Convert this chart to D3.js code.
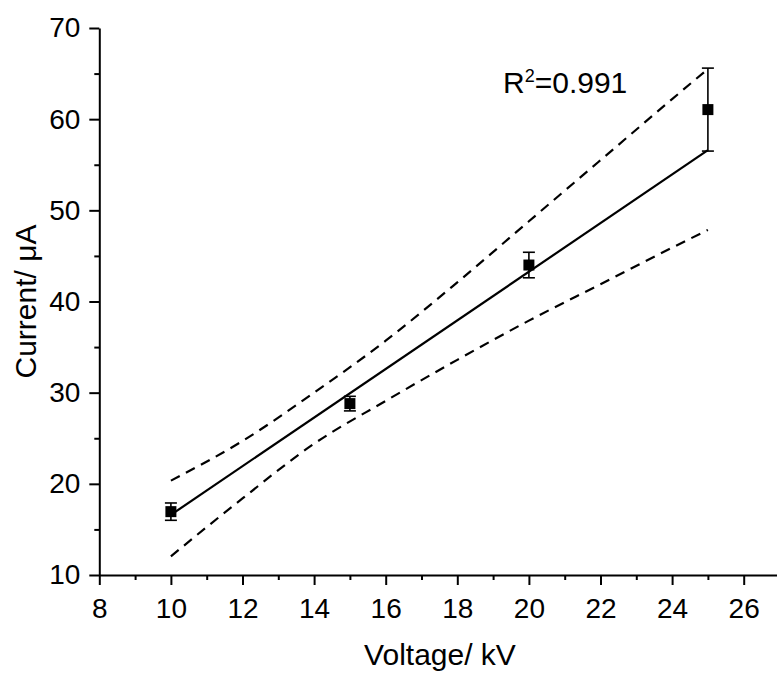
<!DOCTYPE html>
<html>
<head>
<meta charset="utf-8">
<script src="https://cdn.jsdelivr.net/npm/d3@7"></script>
<style>
  html, body { margin: 0; padding: 0; background: #fff; }
  svg text { font-family: "Liberation Sans", Arial, sans-serif; fill: #000; }
</style>
</head>
<body>
<svg id="chart" width="777" height="675"></svg>
<script>
// Measured current at each applied voltage, with standard deviations
const voltage = [10, 15, 20, 25];
const current = [16.95, 28.8, 44.0, 61.05];
const currentErr = [0.95, 0.8, 1.4, 4.55];

// Linear fit, evaluated at the ends of the voltage range
const fitX = [10, 25];
const fitY = [16.6, 56.6];

// Upper and lower band, sampled along the voltage range
const bandX = [10, 12, 14, 16, 18, 20, 22, 24, 25];
const upperY = [20.35, 24.7, 30.0, 35.7, 42.1, 48.8, 55.5, 62.2, 65.5];
const lowerY = [12.05, 18.4, 24.4, 29.1, 33.6, 37.9, 41.9, 45.9, 47.85];
const rSquared = "0.991";

// Axis ticks
const xMajor = [8, 10, 12, 14, 16, 18, 20, 22, 24, 26];
const xMinor = [9, 11, 13, 15, 17, 19, 21, 23, 25];
const yMajor = [10, 20, 30, 40, 50, 60, 70];
const yMinor = [15, 25, 35, 45, 55, 65];

const svg = d3.select("#chart");
const x = d3.scaleLinear().domain([8, 27]).range([99.3, 779.5]);
const y = d3.scaleLinear().domain([10, 70]).range([575, 28]);

// Axes
svg.append("g").attr("transform", `translate(0,${y(10)})`)
  .call(d3.axisBottom(x).tickValues(xMajor).tickSize(10).tickPadding(13).tickSizeOuter(0));
svg.append("g").attr("transform", `translate(0,${y(10)})`)
  .call(d3.axisBottom(x).tickValues(xMinor).tickSize(5).tickFormat("").tickSizeOuter(0))
  .select(".domain").remove();
svg.append("g").attr("transform", `translate(${x(8)},0)`)
  .call(d3.axisLeft(y).tickValues(yMajor).tickSize(10).tickPadding(9).tickSizeOuter(0));
svg.append("g").attr("transform", `translate(${x(8)},0)`)
  .call(d3.axisLeft(y).tickValues(yMinor).tickSize(5).tickFormat("").tickSizeOuter(0))
  .select(".domain").remove();

svg.selectAll(".domain, .tick line").attr("stroke", "#000").attr("stroke-width", 2);
svg.selectAll(".tick text").style("font-size", "28px").style("font-family", '"Liberation Sans", Arial, sans-serif');

// Axis titles
svg.append("text")
  .attr("x", 440).attr("y", 665)
  .attr("text-anchor", "middle")
  .style("font-size", "30px")
  .text("Voltage/ kV");
svg.append("text")
  .attr("transform", `translate(36,${y(40)}) rotate(-90)`)
  .attr("text-anchor", "middle")
  .style("font-size", "30px")
  .text("Current/ μA");

// Band curves (dashed)
const bandLine = d3.line().x(d => x(d[0])).y(d => y(d[1])).curve(d3.curveMonotoneX);
[upperY, lowerY].forEach(band => {
  svg.append("path")
    .datum(bandX.map((v, i) => [v, band[i]]))
    .attr("d", bandLine)
    .attr("fill", "none")
    .attr("stroke", "#000")
    .attr("stroke-width", 2.2)
    .attr("stroke-dasharray", "10,7");
});

// Fit line
const line = d3.line().x(d => x(d[0])).y(d => y(d[1]));
svg.append("path")
  .datum(fitX.map((v, i) => [v, fitY[i]]))
  .attr("d", line)
  .attr("fill", "none")
  .attr("stroke", "#000")
  .attr("stroke-width", 2.2);

// Error bars
const data = voltage.map((v, i) => ({ v, c: current[i], e: currentErr[i] }));
const bars = svg.append("g").selectAll("g").data(data).join("g");
bars.append("line")
  .attr("x1", d => x(d.v)).attr("x2", d => x(d.v))
  .attr("y1", d => y(d.c - d.e)).attr("y2", d => y(d.c + d.e))
  .attr("stroke", "#000").attr("stroke-width", 1.6);
bars.selectAll(".cap").data(d => [[d.v, d.c - d.e], [d.v, d.c + d.e]]).join("line")
  .attr("class", "cap")
  .attr("x1", d => x(d[0]) - 6).attr("x2", d => x(d[0]) + 6)
  .attr("y1", d => y(d[1])).attr("y2", d => y(d[1]))
  .attr("stroke", "#000").attr("stroke-width", 1.6);

// Markers
svg.append("g").selectAll("rect").data(data).join("rect")
  .attr("x", d => x(d.v) - 5.5).attr("y", d => y(d.c) - 5.5)
  .attr("width", 11).attr("height", 11)
  .attr("fill", "#000");

// R² annotation
const ann = svg.append("text")
  .attr("x", 503).attr("y", 93)
  .style("font-size", "30px");
ann.append("tspan").text("R");
ann.append("tspan").attr("dy", -11).style("font-size", "18px").text("2");
ann.append("tspan").attr("dy", 11).text("=" + rSquared);
</script>
</body>
</html>
